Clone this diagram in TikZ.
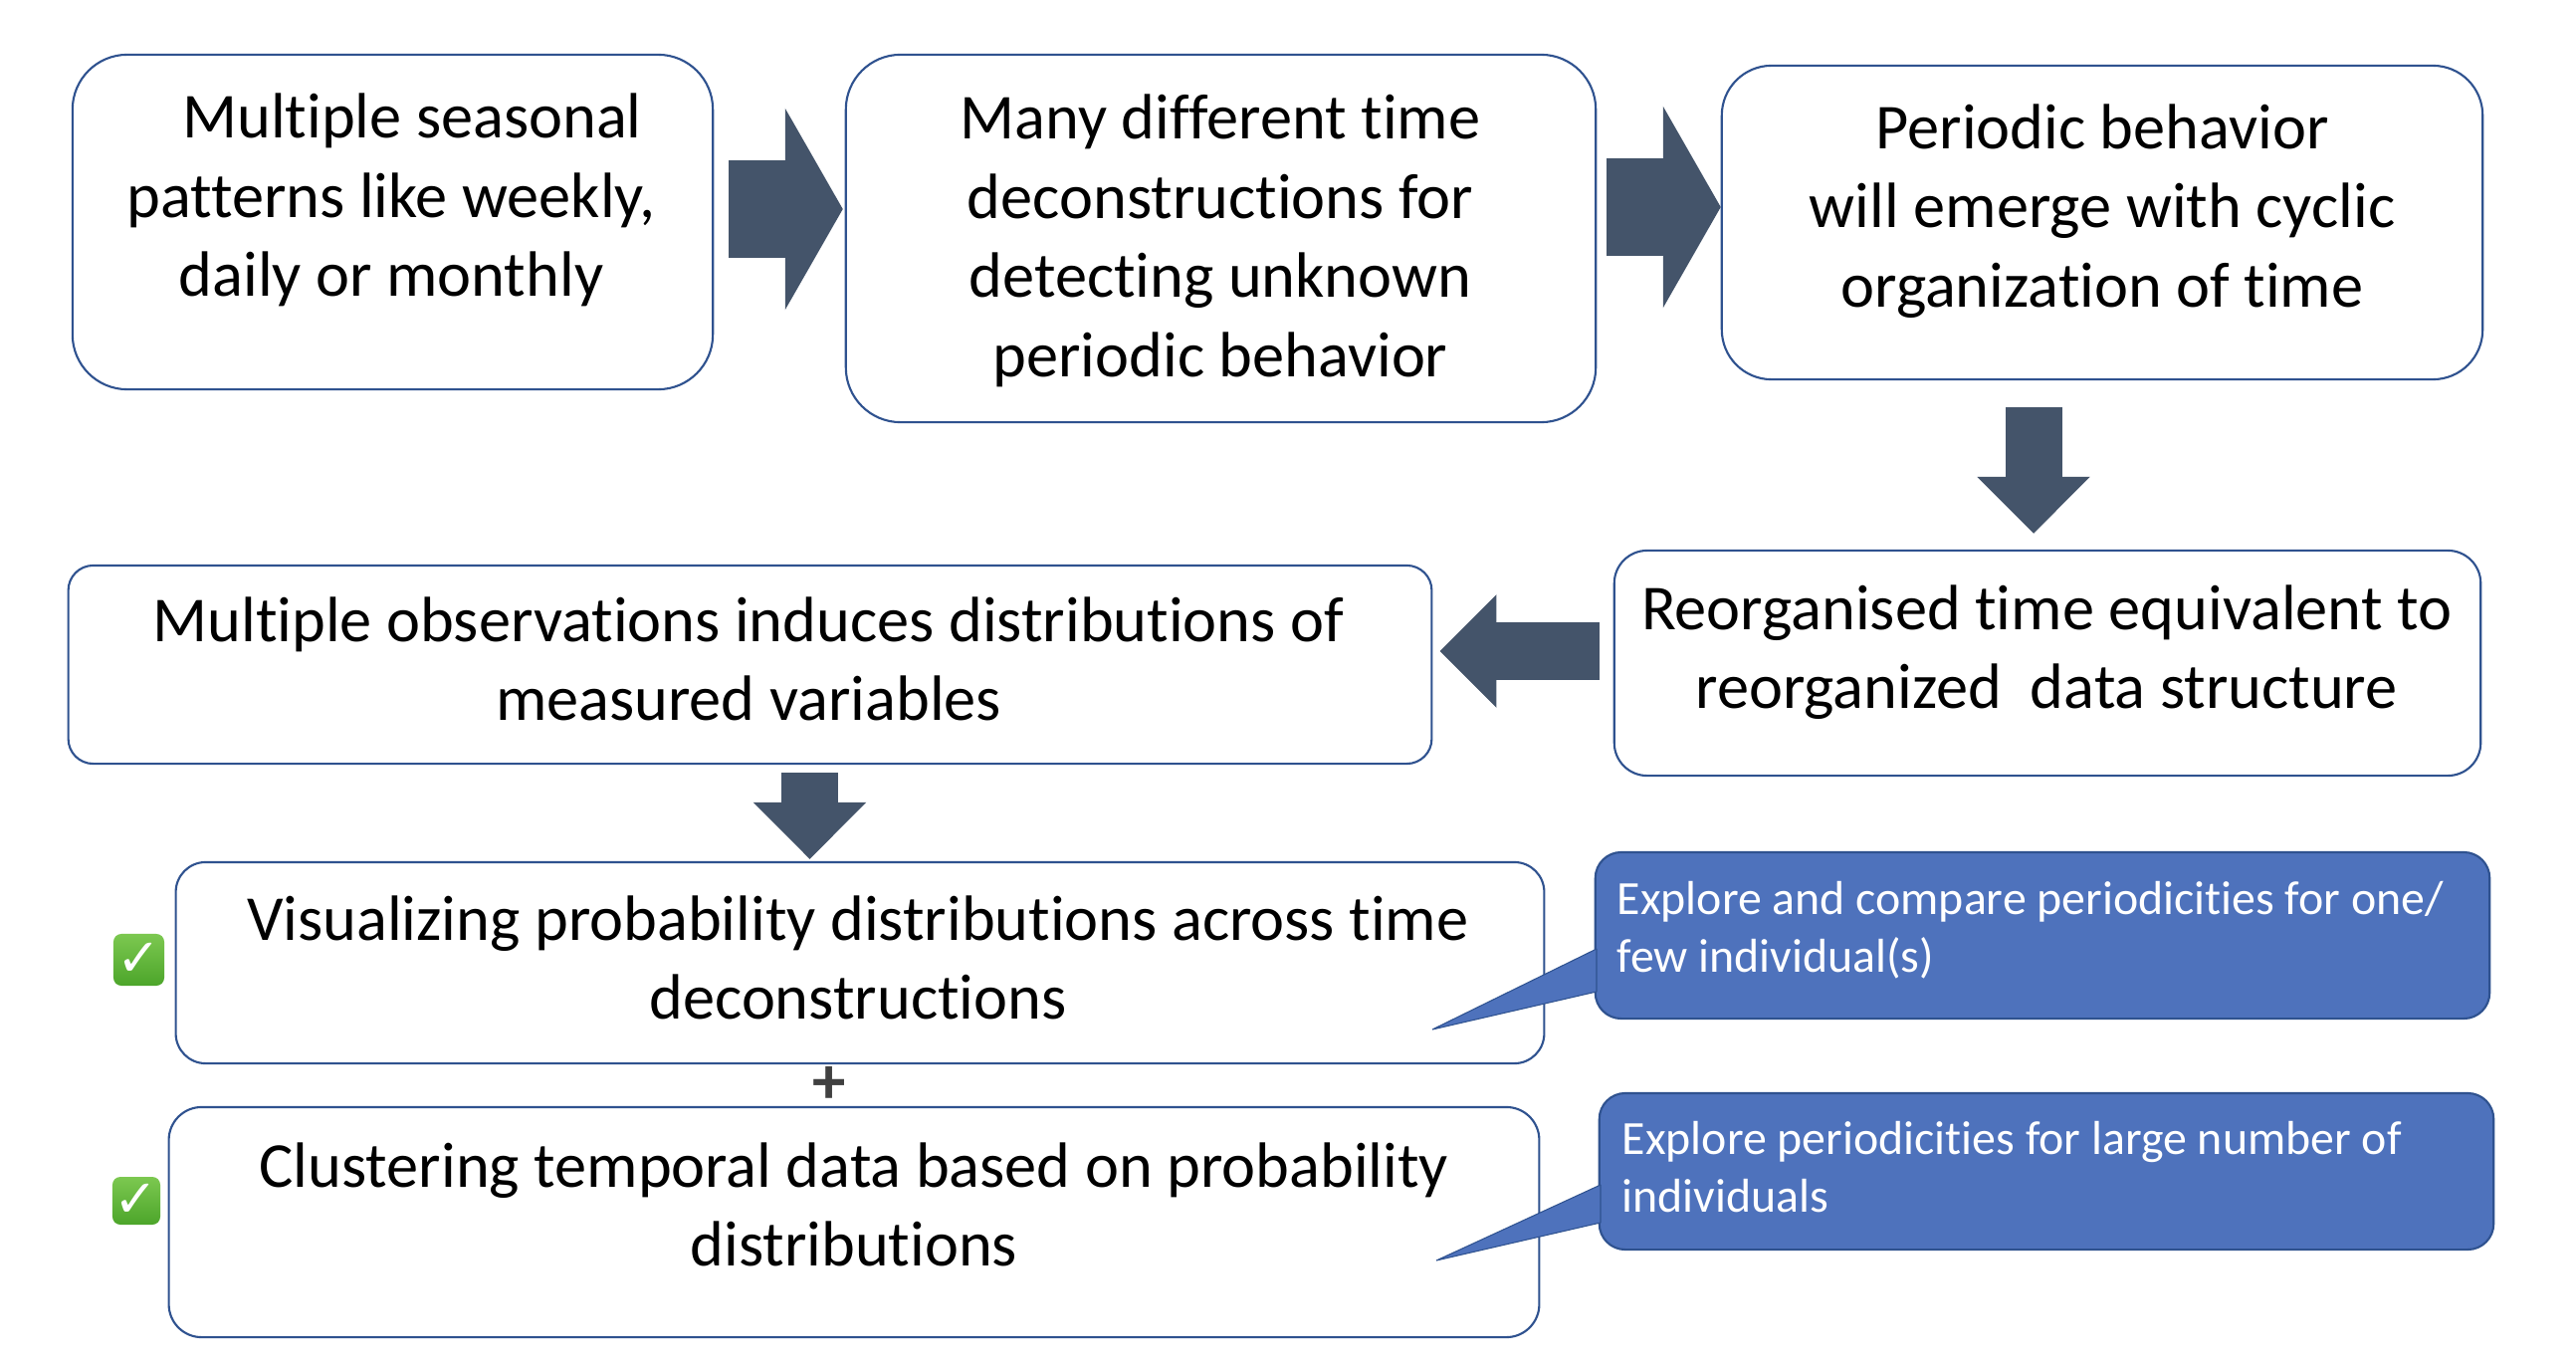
\documentclass[tikz,border=0pt]{standalone}
\usepackage{fontspec}
\usepackage{xcolor}
\setmainfont{Carlito}[Ligatures=NoCommon]
\newfontfamily\checkfont{DejaVu Sans}
\usetikzlibrary{positioning,calc,arrows.meta}
\definecolor{boxline}{HTML}{2F528F}
\definecolor{arrowslate}{HTML}{44546A}
\definecolor{noteblue}{HTML}{4E72BC}
\definecolor{checktop}{HTML}{7CC850}
\definecolor{checkbottom}{HTML}{4CA52A}
\tikzset{
    flowbox/.style={draw=boxline, line width=0.6pt, fill=white, inner sep=0pt, outer sep=0pt},
    boxtext/.style={align=center, inner sep=0pt, font=\fontsize{18.3}{22.6}\selectfont},
    notebox/.style={draw=boxline, line width=0.6pt, fill=noteblue, rounded corners=0.26cm, inner sep=0pt, outer sep=0pt},
    notetext/.style={align=left, anchor=west, inner sep=0pt, text=white, font=\fontsize{13.6}{16.4}\selectfont},
    notetail/.style={draw=boxline, line width=0.3pt, fill=noteblue, line join=bevel},
    bigarrow/.style={draw=arrowslate, line width=0.98cm, -{Triangle[length=0.58cm,width=2cm]}},
    smallarrow/.style={draw=arrowslate, line width=0.57cm, -{Triangle[length=0.57cm,width=1.1cm]}},
    checkmark/.style={rounded corners=0.08cm, top color=checktop, bottom color=checkbottom, inner sep=0pt, outer sep=0pt, text=white, font=\checkfont\fontsize{15}{15}\selectfont},
}
\begin{document}
\begin{tikzpicture}[x=0.01cm, y=-0.01cm]
    \useasboundingbox (0,0) rectangle (2588,1376);

    % Top row
    \node[flowbox, rounded corners=0.55cm, minimum width=6.43cm, minimum height=3.36cm] (seasonal) at (394.5,223) {};
    \node[boxtext] at (393,201) {\hspace*{0.42cm}Multiple seasonal\\patterns like weekly,\\daily or monthly};
    \node[flowbox, rounded corners=0.55cm, minimum width=7.53cm, minimum height=3.69cm] (deconstruct) at (1226.5,239.5) {};
    \node[boxtext] at (1226,242) {Many different time\\deconstructions for\\detecting unknown\\periodic behavior};
    \node[flowbox, rounded corners=0.5cm, minimum width=7.64cm, minimum height=3.15cm] (cyclic) at (2112,223.5) {};
    \node[boxtext] at (2112,212) {Periodic behavior\\will emerge with cyclic\\organization of time};

    % Middle row
    \node[flowbox, rounded corners=0.33cm, minimum width=8.7cm, minimum height=2.26cm] (reorganised) at (2057,666) {};
    \node[boxtext] at (2056,655) {Reorganised time equivalent to\\reorganized\ \ data structure};
    \node[flowbox, rounded corners=0.25cm, minimum width=13.69cm, minimum height=1.99cm] (observations) at (753.5,667.5) {};
    \node[boxtext] at (752,662) {Multiple observations induces distributions of\\measured variables};

    % Bottom row
    \node[flowbox, rounded corners=0.3cm, minimum width=13.74cm, minimum height=2.02cm] (visualizing) at (864,967) {};
    \node[boxtext] at (862,962) {Visualizing probability distributions across time\\deconstructions};
    \node[flowbox, rounded corners=0.33cm, minimum width=13.76cm, minimum height=2.31cm] (clustering) at (858,1227.5) {};
    \node[boxtext] at (858,1210) {Clustering temporal data based on probability\\distributions};
    \node[text=black!75, font=\bfseries\fontsize{19}{19}\selectfont, inner sep=0pt] (plus) at (833,1090) {+};

    % Check marks
    \node[checkmark, minimum width=0.51cm, minimum height=0.52cm] (checkA) at (139.5,964) {✓};
    \node[checkmark, minimum width=0.48cm, minimum height=0.48cm] (checkB) at (137,1206) {✓};

    % Block arrows
    \coordinate (rowA) at (0,210);
    \coordinate (rowB) at (0,208);
    \coordinate (rowC) at (0,654);
    \coordinate (colA) at (2043,0);
    \coordinate (colB) at (813.5,0);
    \draw[bigarrow, shorten <=0.16cm, shorten >=0.03cm] (seasonal.east |- rowA) -- (deconstruct.west |- rowA);
    \draw[bigarrow, shorten <=0.11cm, shorten >=0.01cm] (deconstruct.east |- rowB) -- (cyclic.west |- rowB);
    \draw[smallarrow, shorten <=0.28cm, shorten >=0.17cm] (colA |- cyclic.south) -- (colA |- reorganised.north);
    \draw[smallarrow, shorten <=0.15cm, shorten >=0.08cm] (reorganised.west |- rowC) -- (observations.east |- rowC);
    \draw[smallarrow, shorten <=0.09cm, shorten >=0.03cm] (colB |- observations.south) -- (colB |- visualizing.north);

    % Notes
    \node[notebox, minimum width=8.98cm, minimum height=1.67cm] (noteA) at (2052,939.5) {};
    \coordinate (tipA) at (1439,1034);
    \draw[notetail] (1604,953) -- (tipA) -- (1604,996) -- cycle;
    \node[notetext] at (1624,934) {Explore and compare periodicities for one/\\few individual(s)};
    \node[notebox, minimum width=8.98cm, minimum height=1.57cm] (noteB) at (2056,1176.5) {};
    \coordinate (tipB) at (1443,1266);
    \draw[notetail] (1608,1190) -- (tipB) -- (1608,1228) -- cycle;
    \node[notetext] at (1629,1172) {Explore periodicities for large number of\\individuals};
\end{tikzpicture}
\end{document}
